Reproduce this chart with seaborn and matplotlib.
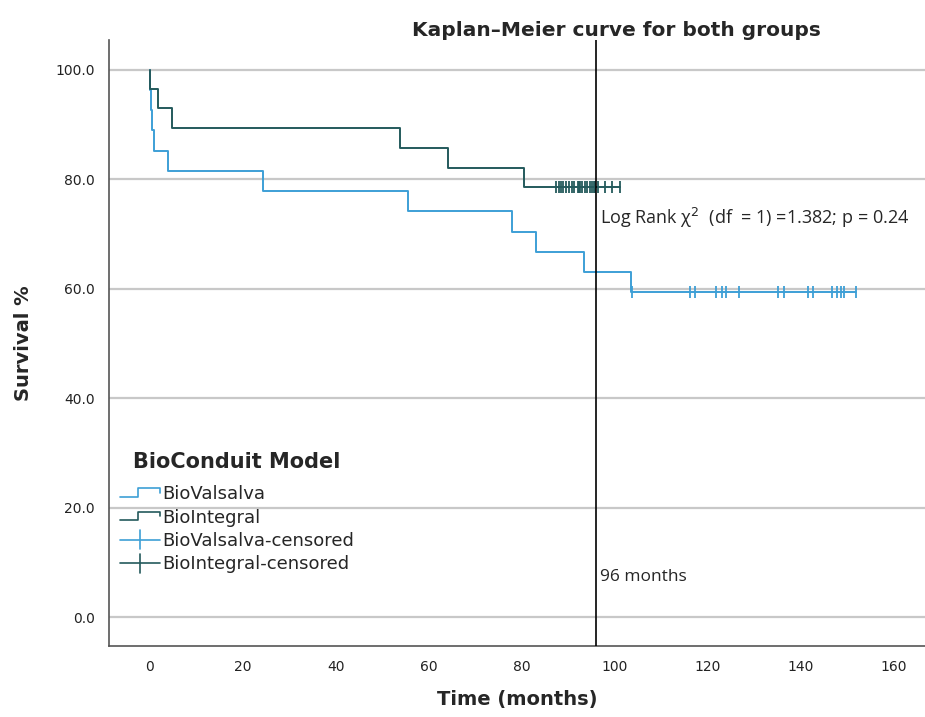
import numpy as np
import pandas as pd
import matplotlib
matplotlib.use("Agg")
import matplotlib.pyplot as plt
import seaborn as sns
from matplotlib.lines import Line2D
from matplotlib.legend_handler import HandlerBase

# Kaplan-Meier steps (time in months, survival %)
valsalva_time = [0, 0.1, 0.3, 0.5, 0.9, 4.0, 24.3, 55.5, 77.8, 83.0, 93.3, 103.4, 151.8]
valsalva_surv = [100, 96.3, 92.6, 88.9, 85.2, 81.5, 77.8, 74.1, 70.4, 66.7, 63.0, 59.3, 59.3]
integral_time = [0, 0.1, 1.8, 4.8, 53.8, 64.1, 80.5, 101.2]
integral_surv = [100, 96.4, 92.9, 89.3, 85.7, 82.1, 78.6, 78.6]

valsalva_cens = [103.6, 116.2, 117.3, 121.8, 123.0, 123.8, 126.8, 135.1,
                 136.4, 141.6, 142.7, 146.7, 147.7, 148.6, 149.3, 151.8]
integral_cens = [87.4, 87.9, 88.4, 88.9, 89.4, 90.1, 90.8, 91.2, 92.1, 92.3, 92.5,
                 93.0, 93.6, 94.1, 94.6, 95.1, 95.5, 95.8, 96.4, 97.9, 99.3, 101.2]

groups = ["BioValsalva", "BioIntegral"]
colors = {"BioValsalva": "#3d9fd6", "BioIntegral": "#245a5c"}

curves = pd.concat([
    pd.DataFrame({"time": valsalva_time, "surv": valsalva_surv, "group": "BioValsalva"}),
    pd.DataFrame({"time": integral_time, "surv": integral_surv, "group": "BioIntegral"}),
])


def surv_at(times, survs, t):
    idx = np.searchsorted(times, t, side="right") - 1
    return np.array(survs)[idx]


cens = pd.concat([
    pd.DataFrame({"time": valsalva_cens,
                  "surv": surv_at(valsalva_time, valsalva_surv, valsalva_cens),
                  "group": "BioValsalva"}),
    pd.DataFrame({"time": integral_cens,
                  "surv": surv_at(integral_time, integral_surv, integral_cens),
                  "group": "BioIntegral"}),
])

sns.set_style("white")
plt.rcParams["font.family"] = ["DejaVu Sans"]

fig = plt.figure(figsize=(9.25, 7.17), dpi=100)
ax = fig.add_axes([0.1178, 0.0994, 0.8822, 0.8448])

for y in [0, 20, 40, 60, 80, 100]:
    ax.axhline(y, color="#c8c8c8", lw=1.6, zorder=0)

for g in groups:
    d = curves[curves.group == g]
    sns.lineplot(data=d, x="time", y="surv", color=colors[g], lw=1.4,
                 drawstyle="steps-post", estimator=None, sort=False, ax=ax, legend=False)
    c = cens[cens.group == g]
    sns.scatterplot(data=c, x="time", y="surv", color=colors[g], marker="|",
                    s=70, linewidth=1.3, ax=ax, legend=False, zorder=3)

ax.axvline(96, color="black", lw=1.2, zorder=4)

ax.set_xlim(-8.8, 166.7)
ax.set_ylim(-5.2, 105.4)
ax.set_xticks([0, 20, 40, 60, 80, 100, 120, 140, 160])
ax.set_yticks([0, 20, 40, 60, 80, 100])
ax.set_yticklabels(["0.0", "20.0", "40.0", "60.0", "80.0", "100.0"])
ax.tick_params(axis="both", length=0, labelsize=10, colors="#222222", pad=10)
for s in ["top", "right"]:
    ax.spines[s].set_visible(False)
for s in ["left", "bottom"]:
    ax.spines[s].set_color("#555555")
    ax.spines[s].set_linewidth(1.2)

ax.set_xlabel("Time (months)", fontsize=14, fontweight="bold", labelpad=12)
ax.set_ylabel("Survival %", fontsize=14, fontweight="bold", labelpad=16)
fig.text(0.666, 0.958, "Kaplan\u2013Meier curve for both groups", ha="center", va="center",
         fontsize=14.5, fontweight="bold")

ax.text(96.9, 72.9, "Log Rank \u03c7$^2$  (df  = 1) =1.382; p = 0.24", fontsize=13,
        family="Open Sans", va="center")
ax.text(96.9, 7.3, "96 months", fontsize=12.5, family="Open Sans", va="center")


class StepHandler(HandlerBase):
    def create_artists(self, legend, orig_handle, xdescent, ydescent,
                       width, height, fontsize, trans):
        x0 = -xdescent
        lo = -ydescent + 0.2 * height
        hi = -ydescent + 0.85 * height
        xs = [x0, x0 + 0.45 * width, x0 + 0.45 * width, x0 + width, x0 + width]
        ys = [lo, lo, hi, hi, hi - 0.35 * height]
        return [Line2D(xs, ys, color=orig_handle.get_color(), lw=1.2, transform=trans)]


class CrossHandler(HandlerBase):
    def create_artists(self, legend, orig_handle, xdescent, ydescent,
                       width, height, fontsize, trans):
        x0 = -xdescent
        ym = -ydescent + 0.5 * height
        xm = x0 + 0.5 * width
        c = orig_handle.get_color()
        h = Line2D([x0, x0 + width], [ym, ym], color=c, lw=1.2, transform=trans)
        v = Line2D([xm, xm], [ym - 0.75 * height, ym + 0.75 * height], color=c, lw=1.2,
                   transform=trans)
        return [h, v]


ax.text(-3.66, 28.3, "BioConduit Model", fontsize=15, fontweight="bold", va="center")

h_v = Line2D([], [], color=colors["BioValsalva"])
h_i = Line2D([], [], color=colors["BioIntegral"])
h_vc = Line2D([], [], color=colors["BioValsalva"])
h_ic = Line2D([], [], color=colors["BioIntegral"])
leg = ax.legend([h_v, h_i, h_vc, h_ic],
                ["BioValsalva", "BioIntegral", "BioValsalva-censored", "BioIntegral-censored"],
                handler_map={h_v: StepHandler(), h_i: StepHandler(),
                             h_vc: CrossHandler(), h_ic: CrossHandler()},
                loc="upper left", bbox_to_anchor=(0.0, 0.283),
                frameon=False, fontsize=13, handlelength=2.2, handletextpad=0.15,
                labelspacing=0.3, borderaxespad=0.4, borderpad=0.2)

fig.savefig("out.png", dpi=100)
